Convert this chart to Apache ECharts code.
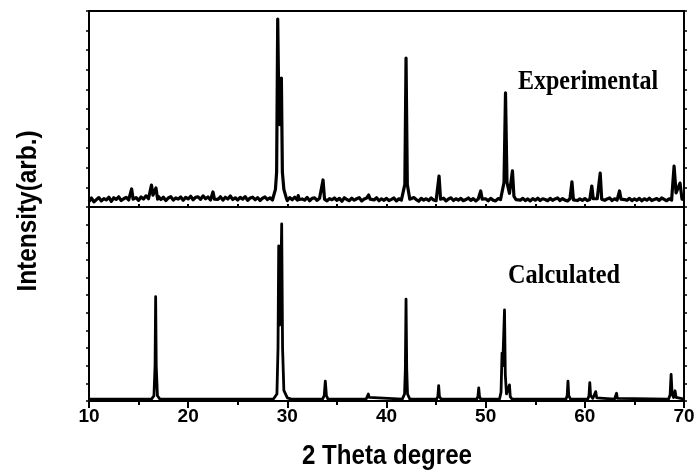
<!DOCTYPE html>
<html>
<head>
<meta charset="utf-8">
<script src="https://cdn.jsdelivr.net/npm/echarts@6/dist/echarts.min.js"></script>
<style>
  html, body { margin: 0; padding: 0; background: #fff; }
  #xrdChart { width: 699px; height: 474px; }
</style>
</head>
<body>
<div id="xrdChart"></div>
<script>
  // x range and tick labels (2 theta)
  const thetaMin = 10;
  const thetaMax = 70;
  const xTickLabels = ['10', '20', '30', '40', '50', '60', '70'];

  // experimental background, one value every 0.25 deg from 10 to 70
  const expBaseStep = 0.25;
  const expBaseline = [
    28, 46, 26, 38, 48, 31, 43, 36, 50, 29, 47, 39, 52, 33, 42, 49, 36, 54, 40, 48,
    34, 51, 41, 57, 42, 52, 36, 48, 54, 38, 50, 33, 46, 53, 35, 47, 40, 51, 34, 49,
    41, 55, 37, 49, 52, 39, 57, 42, 51, 36, 54, 46, 39, 52, 35, 50, 41, 56, 38, 47,
    36, 49, 40, 53, 34, 46, 50, 37, 48, 33, 45, 51, 38, 47, 36, 52, 40, 49, 44, 38,
    33, 48, 37, 50, 31, 46, 41, 35, 49, 32, 44, 47, 34, 45, 36, 49, 31, 43, 37, 46,
    34, 44, 29, 47, 38, 32, 45, 35, 42, 48, 31, 41, 46, 33, 43, 36, 47, 32, 42, 34,
    44, 33, 39, 46, 31, 42, 35, 45, 34, 43, 32, 48, 38, 30, 44, 35, 42, 33, 46, 36,
    32, 43, 34, 45, 31, 41, 47, 33, 42, 35, 44, 32, 38, 46, 34, 43, 31, 41, 45, 34,
    42, 32, 44, 35, 31, 43, 38, 46, 33, 41, 34, 45, 32, 42, 35, 44, 33, 41, 31, 43,
    35, 45, 33, 42, 38, 32, 44, 34, 41, 46, 33, 43, 35, 31, 42, 36, 45, 33, 41, 34,
    43, 33, 38, 45, 32, 42, 35, 44, 34, 41, 46, 33, 42, 35, 31, 43, 38, 34, 44, 33,
    41, 34, 44, 32, 42, 35, 45, 33, 38, 43, 34, 46, 39, 32, 42, 35, 44, 38, 33, 43,
    38
  ];

  // experimental peaks, [2theta, intensity] points
  const expPeaks = [
    [[14.15, 40], [14.3, 92], [14.45, 40]],
    [[16.12, 45], [16.3, 112], [16.45, 60], [16.58, 52], [16.75, 97], [16.92, 40]],
    [[22.35, 40], [22.5, 77], [22.65, 40]],
    [[28.55, 42], [28.8, 90], [28.92, 178], [29.03, 959], [29.15, 480], [29.25, 420], [29.4, 658], [29.5, 178], [29.65, 90], [29.9, 45]],
    [[31.0, 36], [31.1, 58], [31.2, 38]],
    [[33.45, 40], [33.6, 138], [33.75, 40]],
    [[38.05, 40], [38.2, 61], [38.35, 40]],
    [[41.6, 40], [41.85, 115], [41.97, 760], [42.1, 115], [42.35, 40]],
    [[45.15, 40], [45.3, 158], [45.45, 40]],
    [[49.35, 40], [49.5, 82], [49.65, 40]],
    [[51.6, 40], [51.85, 125], [52.0, 582], [52.15, 125], [52.4, 70], [52.55, 80], [52.7, 184], [52.85, 55], [53.05, 38]],
    [[58.55, 36], [58.7, 128], [58.85, 36]],
    [[60.55, 40], [60.7, 107], [60.85, 42]],
    [[61.4, 40], [61.55, 173], [61.7, 40]],
    [[63.35, 40], [63.5, 82], [63.65, 40]],
    [[68.8, 40], [69.0, 209], [69.2, 72], [69.35, 64], [69.6, 122], [69.8, 40]]
  ];

  // calculated pattern, [2theta, intensity]
  const calcPattern = [
    [10, 11],
    [16.3, 11], [16.55, 30], [16.66, 200], [16.72, 591], [16.78, 200], [16.9, 30], [17.15, 11],
    [28.6, 11], [28.95, 40], [29.06, 300], [29.13, 880], [29.22, 430], [29.3, 520], [29.43, 1004], [29.52, 300], [29.65, 60], [30.0, 18], [30.4, 11],
    [33.55, 11], [33.72, 30], [33.83, 113], [33.94, 30], [34.1, 11],
    [37.95, 11], [38.1, 20], [38.17, 40], [38.25, 20], [38.4, 11],
    [41.6, 11], [41.82, 40], [41.9, 180], [41.97, 577], [42.04, 180], [42.12, 40], [42.35, 11],
    [45.05, 11], [45.18, 25], [45.26, 87], [45.34, 25], [45.5, 11],
    [49.1, 11], [49.22, 25], [49.3, 74], [49.38, 25], [49.5, 11],
    [51.4, 11], [51.55, 50], [51.65, 272], [51.72, 200], [51.9, 516], [51.98, 150], [52.1, 40], [52.25, 30], [52.4, 91], [52.48, 25], [52.65, 11],
    [58.1, 11], [58.22, 30], [58.3, 113], [58.38, 30], [58.55, 11],
    [60.3, 11], [60.42, 30], [60.5, 104], [60.58, 30], [60.8, 15], [60.98, 20], [61.1, 53], [61.2, 18], [61.4, 11],
    [63.0, 11], [63.12, 15], [63.2, 44], [63.28, 15], [63.45, 11],
    [68.45, 11], [68.6, 35], [68.7, 151], [68.8, 40], [68.95, 20], [69.1, 58], [69.2, 20], [69.4, 11],
    [70, 11]
  ];

  function buildExperimental() {
    const pts = [];
    expBaseline.forEach((v, i) => {
      const x = thetaMin + i * expBaseStep;
      const inPeak = expPeaks.some(g => x >= g[0][0] && x <= g[g.length - 1][0]);
      if (!inPeak) pts.push([x, v]);
    });
    expPeaks.forEach(g => g.forEach(p => pts.push(p)));
    pts.sort((a, b) => a[0] - b[0]);
    return pts;
  }

  const black = '#000';
  const frameLine = {show: true, lineStyle: {color: black, width: 2}};

  const chart = echarts.init(document.getElementById('xrdChart'));
  const option = {
    animation: false,
    grid: [
      {left: 89, right: 15, top: 11, height: 196, show: true, borderColor: black, borderWidth: 2},
      {left: 89, right: 15, top: 207, height: 194, show: true, borderColor: black, borderWidth: 2}
    ],
    xAxis: [
      {
        type: 'value', gridIndex: 0, position: 'top', min: thetaMin, max: thetaMax, interval: 5,
        axisLine: frameLine, axisTick: {show: true, length: 3, lineStyle: {color: black, width: 2}},
        axisLabel: {show: false}, splitLine: {show: false}
      },
      {
        type: 'value', gridIndex: 1, position: 'bottom', min: thetaMin, max: thetaMax, interval: 10,
        axisLine: frameLine,
        axisTick: {show: true, length: 7, lineStyle: {color: black, width: 2}},
        minorTick: {show: true, splitNumber: 2, length: 4, lineStyle: {color: black, width: 2}},
        axisLabel: {
          show: true, margin: 6, color: black, fontSize: 19, fontWeight: 'bold',
          fontFamily: 'Liberation Sans, Arial, sans-serif',
          formatter: v => xTickLabels[Math.round((v - thetaMin) / 10)]
        },
        splitLine: {show: false}, minorSplitLine: {show: false}
      }
    ],
    yAxis: [
      {
        type: 'value', gridIndex: 0, position: 'left', min: 0, max: 1000, interval: 100,
        axisLine: frameLine, axisTick: {show: true, length: 3, lineStyle: {color: black, width: 1.5}},
        axisLabel: {show: false}, splitLine: {show: false}
      },
      {
        type: 'value', gridIndex: 0, position: 'right', min: 0, max: 1000, interval: 100,
        axisLine: frameLine, axisTick: {show: true, length: 3, lineStyle: {color: black, width: 1.5}},
        axisLabel: {show: false}, splitLine: {show: false}
      },
      {
        type: 'value', gridIndex: 1, position: 'left', min: 0, max: 1100, interval: 100,
        axisLine: frameLine, axisTick: {show: true, length: 3, lineStyle: {color: black, width: 1.5}},
        axisLabel: {show: false}, splitLine: {show: false}
      },
      {
        type: 'value', gridIndex: 1, position: 'right', min: 0, max: 1100, interval: 100,
        axisLine: frameLine, axisTick: {show: true, length: 3, lineStyle: {color: black, width: 1.5}},
        axisLabel: {show: false}, splitLine: {show: false}
      }
    ],
    series: [
      {
        name: 'Experimental', type: 'line', xAxisIndex: 0, yAxisIndex: 0,
        data: buildExperimental(), showSymbol: false, symbol: 'none',
        lineStyle: {color: black, width: 3.2, join: 'round'}
      },
      {
        name: 'Calculated', type: 'line', xAxisIndex: 1, yAxisIndex: 2,
        data: calcPattern, showSymbol: false, symbol: 'none',
        lineStyle: {color: black, width: 2.8, join: 'round'}
      }
    ],
    graphic: [
      {
        type: 'text', x: 588, y: 82, scaleX: 0.89,
        style: {text: 'Experimental', fill: black, font: 'bold 27px "Liberation Serif", "Times New Roman", serif', align: 'center', verticalAlign: 'middle'}
      },
      {
        type: 'text', x: 564, y: 276, scaleX: 0.9,
        style: {text: 'Calculated', fill: black, font: 'bold 27px "Liberation Serif", "Times New Roman", serif', align: 'center', verticalAlign: 'middle'}
      },
      {
        type: 'text', x: 28, y: 211, rotation: Math.PI / 2, scaleX: 0.87,
        style: {text: 'Intensity(arb.)', fill: black, font: 'bold 28px "Liberation Sans", Arial, sans-serif', align: 'center', verticalAlign: 'middle'}
      },
      {
        type: 'text', x: 387, y: 456, scaleX: 0.86,
        style: {text: '2 Theta degree', fill: black, font: 'bold 28px "Liberation Sans", Arial, sans-serif', align: 'center', verticalAlign: 'middle'}
      }
    ]
  };
  chart.setOption(option);
</script>
</body>
</html>
